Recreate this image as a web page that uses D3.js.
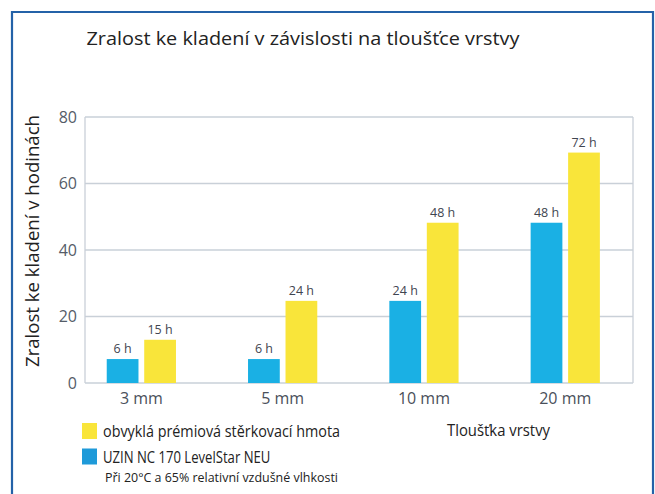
<!DOCTYPE html>
<html><head><meta charset="utf-8">
<script src="https://cdn.jsdelivr.net/npm/d3@7"></script>
<style>body{margin:0;background:#fff}svg{display:block}text{font-family:"Open Sans",sans-serif}</style>
</head><body>
<svg id="c" width="655" height="494"></svg>
<script>
const categories = ["3 mm", "5 mm", "10 mm", "20 mm"];
const seriesNames = ["UZIN NC 170 LevelStar NEU", "obvyklá prémiová stěrkovací hmota"];
const uzinValues = [7.2, 7.2, 24.7, 48.2];
const standardValues = [13, 24.7, 48.2, 69.3];
const uzinLabels = ["6 h", "6 h", "24 h", "48 h"];
const standardLabels = ["15 h", "24 h", "48 h", "72 h"];
const yTicks = [0, 20, 40, 60, 80];
const colors = ["#1ab0e4", "#f9e53a"];
const legendColors = ["#f9e53a", "#1e9ad9"];

const svg = d3.select("#c");
// frame
svg.append("path").attr("d","M12,494V12H653V494").attr("fill","none").attr("stroke","#2462a8").attr("stroke-width",2.2);

const plotL = 85, plotR = 633, plotT = 117, plotB = 383;
const y = d3.scaleLinear().domain([0,80]).range([plotB, plotT]);
const x0 = d3.scaleBand().domain(categories).range([70.7, 635.9]).paddingInner(0.51).paddingOuter(0.255);
const x1 = d3.scaleBand().domain([0,1]).range([0, x0.bandwidth()]).paddingInner(0.153);

// gridlines
const grid = svg.append("g");
yTicks.forEach(t => {
  grid.append("line").attr("x1",plotL).attr("x2",plotR).attr("y1",y(t)).attr("y2",y(t))
    .attr("stroke","#c9d0d8").attr("stroke-width",1.3);
});
grid.append("line").attr("x1",plotL).attr("x2",plotL).attr("y1",plotT).attr("y2",plotB).attr("stroke","#c9d0d8").attr("stroke-width",1.3);
grid.append("line").attr("x1",plotR).attr("x2",plotR).attr("y1",plotT).attr("y2",plotB).attr("stroke","#c9d0d8").attr("stroke-width",1.3);

// y axis
const yAxis = svg.append("g").attr("transform",`translate(${plotL},0)`)
  .call(d3.axisLeft(y).tickValues(yTicks).tickSize(0).tickPadding(8));
yAxis.select(".domain").remove();
yAxis.selectAll("text").attr("font-size",16).attr("fill","#555c68").attr("font-family","Open Sans, sans-serif");

// x axis
const xAxis = svg.append("g").attr("transform",`translate(0,${plotB})`)
  .call(d3.axisBottom(x0).tickSize(0).tickPadding(10));
xAxis.select(".domain").remove();
xAxis.selectAll("text").attr("font-size",16).attr("fill","#4a505a").attr("font-family","Open Sans, sans-serif");

// bars
const series = [uzinValues, standardValues];
const labels = [uzinLabels, standardLabels];
series.forEach((vals, si) => {
  const g = svg.append("g");
  g.selectAll("rect").data(vals).join("rect")
    .attr("x",(d,i)=>x0(categories[i])+x1(si))
    .attr("y",d=>y(d)).attr("width",x1.bandwidth()).attr("height",d=>plotB-y(d))
    .attr("fill",colors[si]);
  g.selectAll("text").data(vals).join("text")
    .attr("x",(d,i)=>x0(categories[i])+x1(si)+x1.bandwidth()/2)
    .attr("y",d=>y(d)-6).attr("text-anchor","middle")
    .attr("font-size",12.5).attr("fill","#3f4550").attr("font-weight",500)
    .text((d,i)=>labels[si][i]);
});

// title
svg.append("text").attr("x",303).attr("y",45).attr("text-anchor","middle")
  .attr("font-size",19).attr("fill","#222").attr("font-family","Open Sans, sans-serif").attr("textLength",433).attr("lengthAdjust","spacingAndGlyphs")
  .text("Zralost ke kladení v závislosti na tloušťce vrstvy");

// y label
svg.append("text").attr("transform","translate(39,241) rotate(-90)").attr("text-anchor","middle")
  .attr("font-size",18).attr("fill","#222").attr("textLength",252).attr("lengthAdjust","spacingAndGlyphs")
  .text("Zralost ke kladení v hodinách");

// legend
const legendItems = [seriesNames[1], seriesNames[0]];
legendItems.forEach((name,i)=>{
  const yy = 423 + i*25.5;
  svg.append("rect").attr("x",82).attr("y",yy).attr("width",15).attr("height",16).attr("fill",legendColors[i]);
  svg.append("text").attr("x",103).attr("y",yy+14).attr("font-size",16.5).attr("fill","#222")
    .attr("textLength", i===0?237:(60+631/3-103)).attr("lengthAdjust","spacingAndGlyphs").text(name);
});
svg.append("text").attr("x",105).attr("y",482).attr("font-size",13).attr("fill","#222")
  .attr("textLength",233).attr("lengthAdjust","spacingAndGlyphs").text("Při 20°C a 65% relativní vzdušné vlhkosti");
svg.append("text").attr("x",447).attr("y",436).attr("font-size",16.5).attr("fill","#222")
  .attr("textLength",103).attr("lengthAdjust","spacingAndGlyphs").text("Tloušťka vrstvy");
</script>
</body></html>
